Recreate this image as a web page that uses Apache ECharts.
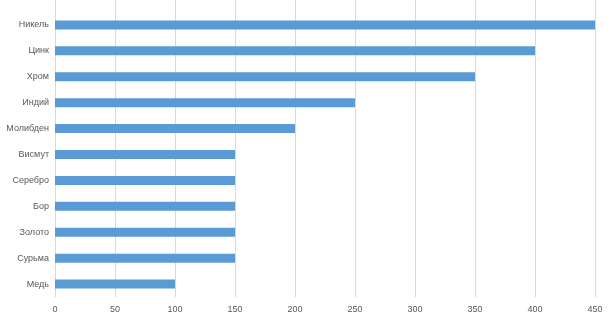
<!DOCTYPE html>
<html><head><meta charset="utf-8">
<script src="https://cdn.jsdelivr.net/npm/echarts@6/dist/echarts.min.js"></script>
<style>html,body{margin:0;padding:0;background:#fff}#c{width:614px;height:323px}</style>
</head><body><div id="c"></div>
<script>
const categories = ['Никель','Цинк','Хром','Индий','Молибден','Висмут','Серебро','Бор','Золото','Сурьма','Медь'];
const values = [450,400,350,250,200,150,150,150,150,150,100];
const xTicks = {min:0, max:450, interval:50};

const chart = echarts.init(document.getElementById('c'));
const font = 'Liberation Sans, Arial, sans-serif';
chart.setOption({
  animation:false,
  grid:{left:55, right:19, top:12, bottom:26},
  xAxis:[
    {type:'value', min:xTicks.min, max:xTicks.max, interval:xTicks.interval,
     axisLine:{show:false}, axisTick:{show:false},
     splitLine:{show:true, lineStyle:{color:'#d9d9d9', width:1}},
     axisLabel:{color:'#595959', fontSize:9, fontFamily:font, margin:8}},
    {type:'value', position:'top', min:xTicks.min, max:xTicks.max, interval:xTicks.interval,
     axisLine:{show:false}, splitLine:{show:false}, axisLabel:{show:false},
     axisTick:{show:true, inside:false, length:12, lineStyle:{color:'#d9d9d9', width:1}}}
  ],
  yAxis:{type:'category', data:categories, inverse:true,
     axisLine:{show:false}, axisTick:{show:false},
     axisLabel:{color:'#595959', fontSize:9, fontFamily:font, margin:6}},
  series:[{type:'bar', data:values, barWidth:9, itemStyle:{color:'#5b9bd5'}}]
});
</script></body></html>
